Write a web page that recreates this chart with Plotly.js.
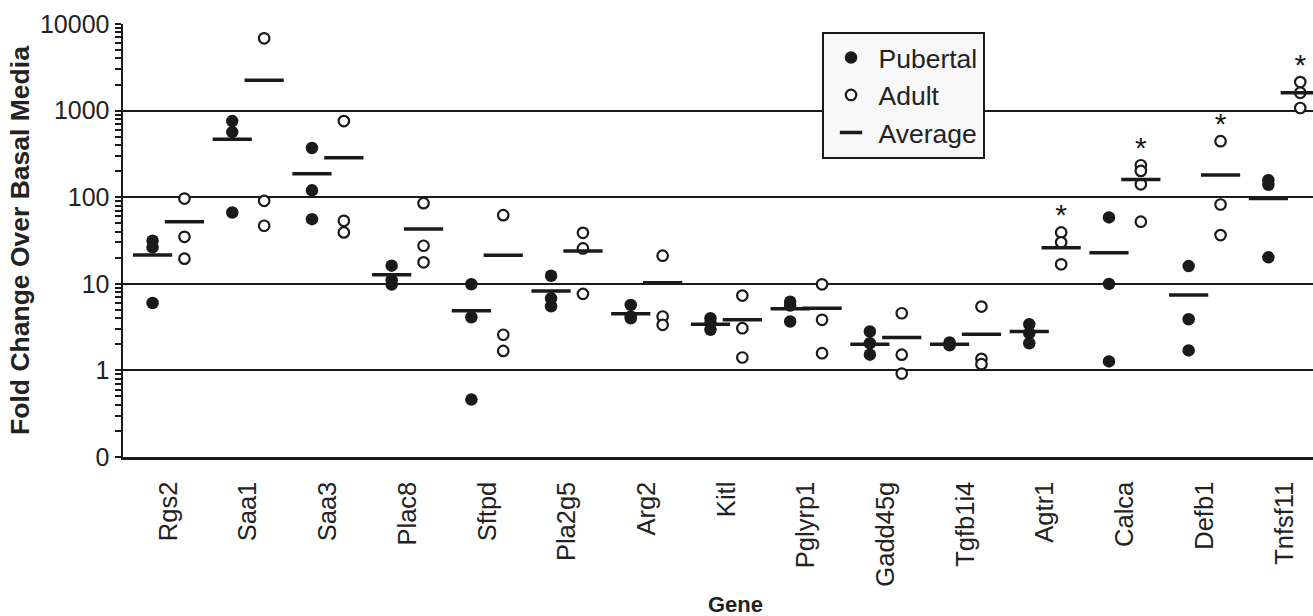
<!DOCTYPE html>
<html>
<head>
<meta charset="utf-8">
<script src="https://cdn.plot.ly/plotly-3.0.1.min.js"></script>
<style>html,body{margin:0;padding:0;background:#fff;}#chart{width:1313px;height:616px;}</style>
</head>
<body>
<div id="chart"></div>
<script>
const genes = ['Rgs2','Saa1','Saa3','Plac8','Sftpd','Pla2g5','Arg2','Kitl','Pglyrp1','Gadd45g','Tgfb1i4','Agtr1','Calca','Defb1','Tnfsf11'];
const pubertal = [
  [31.4, 26.3, 6.0],
  [757, 565, 66.6],
  [370, 120, 55.8],
  [16.2, 11.0, 9.8],
  [9.87, 4.11, 0.46],
  [12.4, 6.8, 5.5],
  [5.7, 4.19, 4.0],
  [4.0, 3.5, 2.94],
  [6.2, 5.6, 3.67],
  [2.81, 2.06, 1.52],
  [2.1, 2.0, 1.95],
  [3.42, 2.69, 2.06],
  [58.4, 9.97, 1.27],
  [16.0, 3.9, 1.70],
  [157, 139, 20.2]
];
const adult = [
  [96.5, 34.9, 19.5],
  [6840, 90.7, 46.8],
  [757, 53.4, 39.2],
  [85.3, 27.5, 17.7],
  [62, 2.58, 1.68],
  [38.8, 25.6, 7.65],
  [21.1, 4.19, 3.36],
  [7.31, 3.07, 1.41],
  [9.87, 3.84, 1.58],
  [4.57, 1.52, 0.92],
  [5.46, 1.36, 1.18],
  [39.2, 30.1, 16.8],
  [234, 201, 141, 52.1],
  [443, 82.4, 36.5],
  [2135, 1608, 1071]
];
const pubertalAvg = [21.5, 466, 187, 12.7, 4.87, 8.28, 4.5, 3.42, 5.14, 2.01, 2.01, 2.81, 22.9, 7.44, 96.6];
const adultAvg = [52, 2245, 286, 42.8, 21.3, 23.9, 10.3, 3.84, 5.22, 2.4, 2.62, 26.1, 160, 180, 1608];
const significant = ['Agtr1', 'Calca', 'Defb1', 'Tnfsf11'];
const yTickVals = [0.1, 1, 10, 100, 1000, 10000];
const yTickText = ['0', '1', '10', '100', '1000', '10000'];

const OFF = 0.2;
const INK = '#1a1a1a';
const FONT = 'Liberation Sans, Arial, Helvetica, sans-serif';

function flatten(groups, shift) {
  const xs = [], ys = [];
  groups.forEach((vals, i) => vals.forEach(v => { xs.push(i + shift); ys.push(v); }));
  return {xs, ys};
}
const pub = flatten(pubertal, -OFF);
const adu = flatten(adult, OFF);
const idx = genes.map((g, i) => i);

const minorVals = [];
for (let k = -1; k <= 3; k++) for (let m = 2; m <= 9; m++) minorVals.push(m * Math.pow(10, k));

const sigX = [], sigY = [];
significant.forEach(g => {
  const i = genes.indexOf(g);
  sigX.push(i + OFF);
  sigY.push(Math.max(...adult[i]));
});

const traces = [
  {type: 'scatter', mode: 'markers', name: 'Pubertal', x: pub.xs, y: pub.ys,
   marker: {symbol: 'circle', size: 12.5, color: INK, line: {width: 0}}},
  {type: 'scatter', mode: 'markers', name: 'Adult', x: adu.xs, y: adu.ys,
   marker: {symbol: 'circle', size: 10.5, color: '#ffffff', line: {width: 2.2, color: INK}}},
  {type: 'scatter', mode: 'markers', name: 'Average', legendgroup: 'avg', x: idx.map(i => i - OFF), y: pubertalAvg,
   marker: {symbol: 'line-ew', size: 28, line: {width: 3.5, color: INK}}},
  {type: 'scatter', mode: 'markers', name: 'Average', legendgroup: 'avg', showlegend: false, x: idx.map(i => i + OFF), y: adultAvg,
   marker: {symbol: 'line-ew', size: 28, line: {width: 3.5, color: INK}}},
  {type: 'scatter', mode: 'text', showlegend: false, x: sigX, y: sigY, text: sigX.map(() => '*'),
   textposition: 'top center', textfont: {size: 30, color: INK, family: FONT}, hoverinfo: 'skip'}
];

const layout = {
  width: 1313, height: 616,
  margin: {l: 123, r: 0, t: 24, b: 159, pad: 0},
  paper_bgcolor: '#ffffff', plot_bgcolor: '#ffffff',
  font: {family: FONT, color: '#222', size: 25},
  showlegend: true,
  legend: {x: 0.587, y: 0.982, xanchor: 'left', yanchor: 'top', bgcolor: '#f8f8f8',
           bordercolor: INK, borderwidth: 2, font: {size: 26.5, family: FONT, color: '#222'},
           itemwidth: 45, tracegroupgap: 0},
  xaxis: {range: [-0.571, 14.36], tickmode: 'array', tickvals: idx, ticktext: genes,
          tickangle: -90, ticks: '', showgrid: false, zeroline: false,
          showline: true, linecolor: INK, linewidth: 2.5, ticklabelstandoff: 12,
          tickfont: {size: 25.5, family: FONT, color: '#222'}},
  yaxis: {type: 'log', range: [-1, 4], tickmode: 'array', tickvals: yTickVals, ticktext: yTickText,
          ticks: 'outside', ticklen: 6, tickwidth: 2, tickcolor: INK,
          showgrid: true, gridcolor: INK, gridwidth: 2.2, zeroline: false,
          showline: true, linecolor: INK, linewidth: 2.5,
          tickfont: {size: 25, family: FONT, color: '#222'},
          minor: {tickvals: minorVals, ticks: 'outside', ticklen: 6, tickwidth: 2, tickcolor: INK, showgrid: false},
          title: {text: '<b>Fold Change Over Basal Media</b>', standoff: 3, font: {size: 26.5, family: FONT, color: '#222'}}},
  yaxis2: {type: 'log', range: [-1, 4], overlaying: 'y', anchor: 'x', side: 'left',
           tickmode: 'array', tickvals: yTickVals, ticks: 'inside', ticklen: 7, tickwidth: 2, tickcolor: INK,
           showticklabels: false, showgrid: false, zeroline: false, showline: false,
           minor: {tickvals: minorVals, ticks: 'inside', ticklen: 7, tickwidth: 2, tickcolor: INK, showgrid: false}},
  annotations: [
    {text: '<b>Gene</b>', xref: 'paper', yref: 'paper', x: 0.515, y: -0.31, xanchor: 'center', yanchor: 'top',
     showarrow: false, borderpad: 0, font: {size: 22, family: FONT, color: '#222'}}
  ]
};

Plotly.newPlot('chart', traces, layout, {displayModeBar: false, staticPlot: true});
</script>
</body>
</html>
